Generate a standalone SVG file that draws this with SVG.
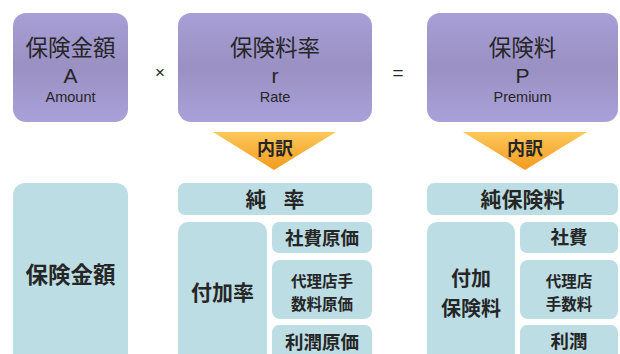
<svg xmlns="http://www.w3.org/2000/svg" width="620" height="354" viewBox="0 0 620 354">
<defs>
<linearGradient id="purple" x1="0" y1="0" x2="0" y2="1">
<stop offset="0" stop-color="#a79fd6"/>
<stop offset="0.5" stop-color="#9a90c2"/>
<stop offset="1" stop-color="#a9a1da"/>
</linearGradient>
<linearGradient id="orange" x1="0" y1="0" x2="0" y2="1">
<stop offset="0" stop-color="#fcc85a"/>
<stop offset="1" stop-color="#f39a1e"/>
</linearGradient>
<style>
.top{fill:url(#purple);}
.blue{fill:#bcdde3;}
.arr{fill:url(#orange);}
text{font-family:"Noto Sans CJK JP","Liberation Sans",sans-serif;fill:#262626;text-anchor:middle;}
.en{font-family:"Liberation Sans","Noto Sans CJK JP",sans-serif;}
.jt{font-size:22.5px;}
.big{font-size:21px;}
.two{font-size:20px;}
.mid{font-size:18.5px;}
.sm{font-size:15.5px;}
.b{font-weight:700;}
</style>
</defs>
<rect width="620" height="354" fill="#ffffff"/>
<g id="amount">
<rect class="top" x="13" y="13" width="115" height="109" rx="13"/>
<text class="jt" x="70.5" y="56">保険金額</text>
<text class="en big" x="70.5" y="83">A</text>
<text class="en" x="70.5" y="102" font-size="14.5">Amount</text>
</g>
<g id="times"><text class="en" x="160" y="78" font-size="17">×</text></g>
<g id="rate">
<rect class="top" x="178" y="13" width="194" height="109" rx="13"/>
<text class="jt" x="275" y="56">保険料率</text>
<text class="en big" x="275" y="83">r</text>
<text class="en" x="275" y="102" font-size="14.5">Rate</text>
</g>
<g id="equals"><text class="en" x="398" y="79" font-size="19">=</text></g>
<g id="premium">
<rect class="top" x="427" y="13" width="191" height="109" rx="13"/>
<text class="jt" x="522.5" y="56">保険料</text>
<text class="en big" x="522.5" y="83">P</text>
<text class="en" x="522.5" y="102" font-size="14.5">Premium</text>
</g>
<g id="connectors">
<polygon class="arr" points="213,132 336,132 274,170"/>
<text class="b" x="275" y="155" font-size="18">内訳</text>
<polygon class="arr" points="463,132 587,132 525,170"/>
<text class="b" x="525" y="155" font-size="18">内訳</text>
</g>
<g id="amount-detail">
<rect class="blue" x="13" y="183" width="115" height="185" rx="12"/>
<text class="jt b" x="70.5" y="283">保険金額</text>
</g>
<g id="pure-rate">
<rect class="blue" x="178" y="183" width="194" height="32" rx="7"/>
<text class="b" x="275" y="207" font-size="21" word-spacing="12">純 率</text>
</g>
<g id="loading-rate">
<rect class="blue" x="178" y="222" width="89" height="150" rx="10"/>
<text class="big b" x="222.5" y="300">付加率</text>
</g>
<g id="expense-rate">
<rect class="blue" x="272" y="222" width="100" height="31" rx="7"/>
<text class="mid b" x="322" y="245">社費原価</text>
</g>
<g id="agency-rate">
<rect class="blue" x="272" y="260" width="100" height="59" rx="8"/>
<text class="sm b" x="322" y="287">代理店手<tspan x="322" dy="23">数料原価</tspan></text>
</g>
<g id="profit-rate">
<rect class="blue" x="272" y="325" width="100" height="45" rx="7"/>
<text class="mid b" x="322" y="349">利潤原価</text>
</g>
<g id="pure-premium">
<rect class="blue" x="427" y="183" width="191" height="32" rx="7"/>
<text class="b" x="522.5" y="207" font-size="21">純保険料</text>
</g>
<g id="loading-premium">
<rect class="blue" x="427" y="222" width="88" height="150" rx="10"/>
<text class="two b" x="471" y="286">付加<tspan x="471" dy="29.5">保険料</tspan></text>
</g>
<g id="expense">
<rect class="blue" x="520" y="222" width="98" height="31" rx="7"/>
<text class="mid b" x="569" y="244">社費</text>
</g>
<g id="agency">
<rect class="blue" x="520" y="260" width="98" height="59" rx="8"/>
<text class="sm b" x="569" y="287">代理店<tspan x="569" dy="23">手数料</tspan></text>
</g>
<g id="profit">
<rect class="blue" x="520" y="325" width="98" height="45" rx="7"/>
<text class="mid b" x="569" y="348">利潤</text>
</g>
</svg>
